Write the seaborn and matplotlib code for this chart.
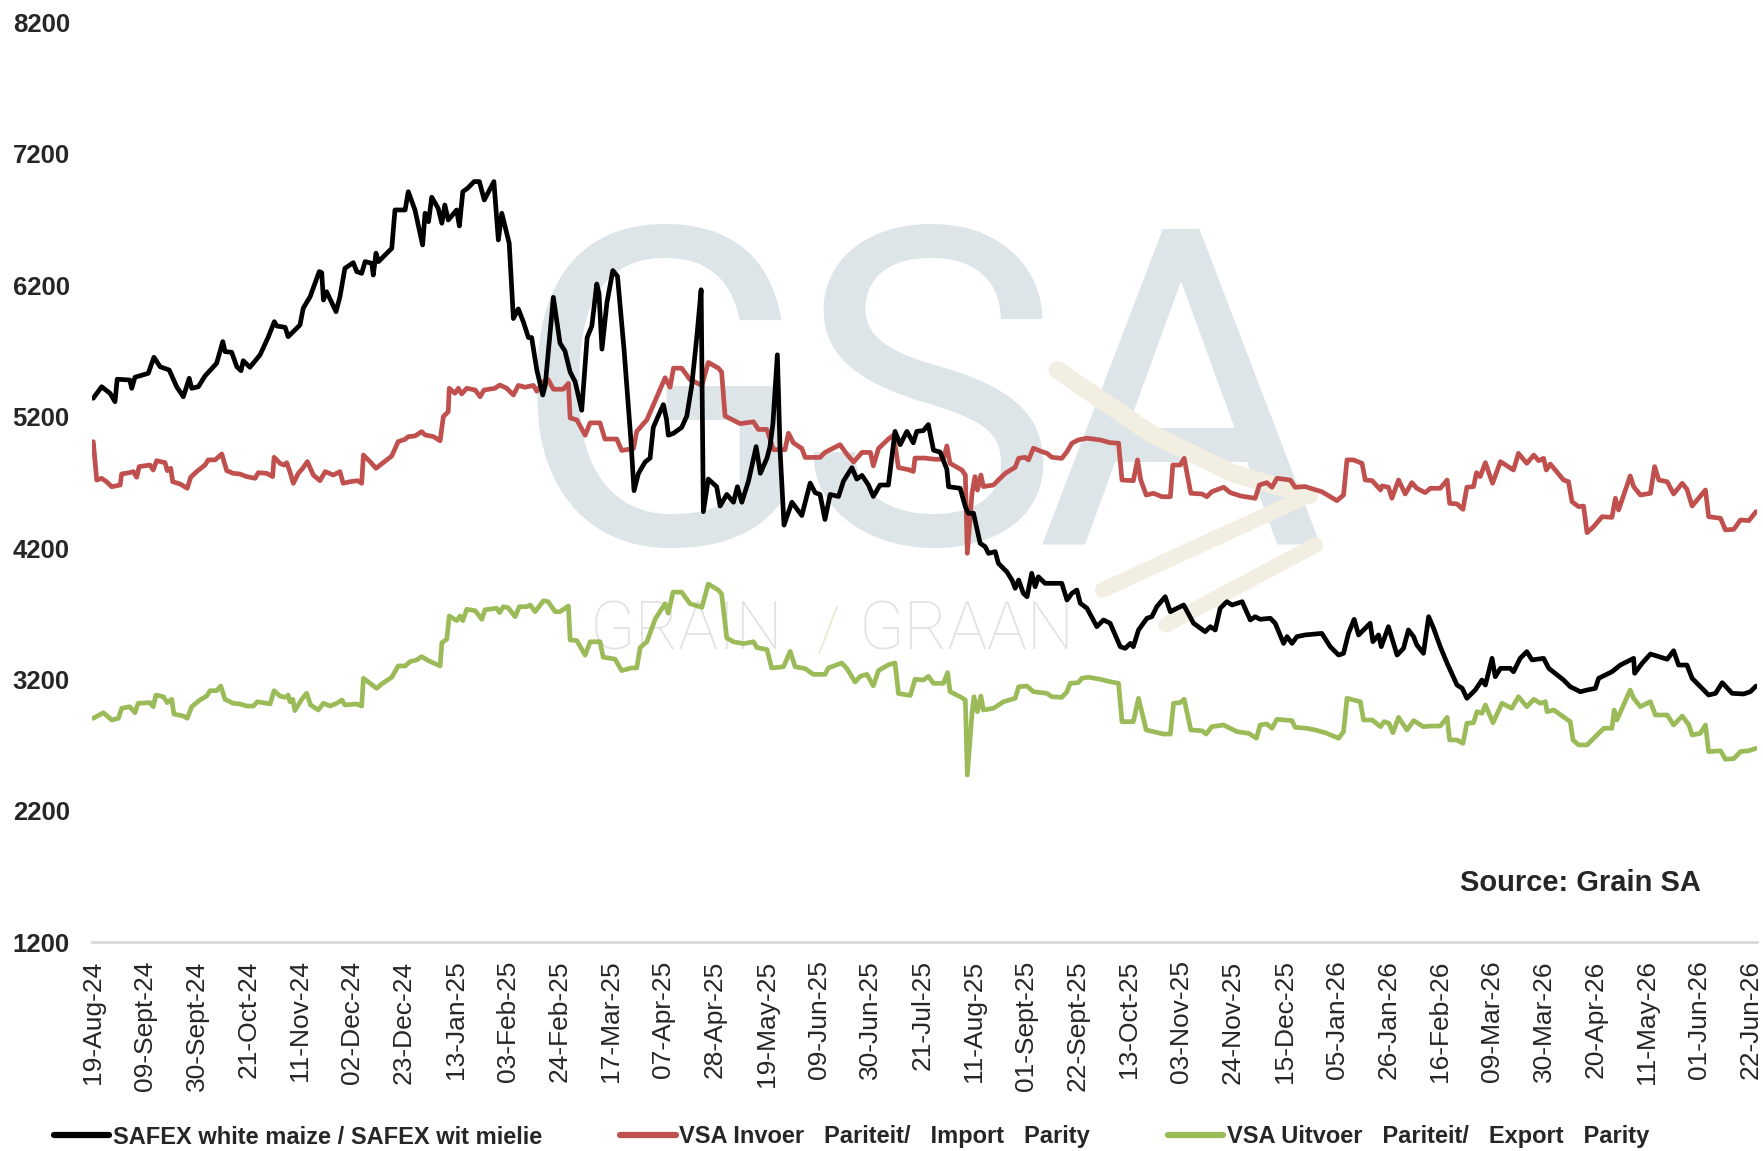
import pandas as pd
import matplotlib
matplotlib.use("Agg")
import matplotlib.pyplot as plt
import seaborn as sns
from matplotlib.lines import Line2D

# Dates are given as days after the first trading day (19-Aug-24)
start_date = "2024-08-19"

safex_day = [
    0, 3.4, 6.8, 8.8, 9.7, 14.8, 15.6, 16.9, 22.3, 24.6,
    27.1, 30.8, 33.8, 36.5, 38.9, 39.9, 42.6, 45.3, 50.0, 52.5,
    53.4, 56.1, 58.2, 59.9, 60.8, 63.5, 67.6, 71.0, 73.4, 74.4,
    77.8, 79.0, 83.8, 85.1, 87.9, 91.6, 92.6, 93.3, 94.6, 98.4,
    100.0, 102.0, 105.4, 106.8, 108.8, 110.2, 112.9, 113.5, 114.6, 115.6,
    121.0, 122.3, 126.4, 127.7, 130.4, 133.5, 134.5, 135.9, 137.2, 139.8,
    141.3, 142.5, 143.9, 147.3, 148.4, 149.8, 151.7, 154.4, 156.5, 158.5,
    162.4, 164.2, 165.6, 168.6, 170.3, 172.3, 174.4, 176.4, 177.7, 179.8,
    182.2, 183.2, 186.5, 189.2, 191.2, 193.3, 195.3, 198.0, 200.2, 202.1,
    204.1, 205.0, 206.2, 208.2, 210.6, 212.5, 215.2, 217.9, 219.2, 221.0,
    223.7, 225.7, 227.0, 229.0, 231.1, 232.4, 233.1, 235.2, 238.5, 240.6,
    242.6, 244.7, 246.4, 247.3, 249.3, 252.7, 254.1, 256.8, 259.5, 261.1,
    262.9, 265.6, 268.7, 270.4, 273.1, 274.3, 275.5, 277.3, 278.4, 280.0,
    283.2, 287.2, 290.6, 292.6, 294.6, 296.6, 298.7, 302.1, 304.1, 307.5,
    309.5, 311.6, 314.2, 316.2, 318.9, 322.3, 325.0, 327.1, 329.8, 332.4,
    333.8, 336.5, 338.5, 340.6, 343.3, 346.0, 346.7, 351.4, 353.5, 354.7,
    356.8, 357.4, 359.5, 361.5, 362.9, 365.6, 366.9, 370.3, 372.4, 373.7,
    375.1, 377.0, 378.5, 380.4, 381.8, 383.1, 385.8, 388.6, 392.6, 394.7,
    396.7, 398.7, 400.1, 402.8, 406.8, 409.5, 412.2, 416.3, 418.3, 420.4,
    421.6, 423.7, 427.1, 429.1, 431.1, 434.5, 436.6, 439.3, 442.0, 446.0,
    450.7, 452.8, 454.8, 456.8, 459.5, 461.6, 465.7, 469.0, 471.0, 473.0,
    477.1, 479.1, 482.5, 483.9, 485.9, 487.9, 491.2, 498.0, 501.4, 504.8,
    506.8, 508.8, 511.1, 512.9, 517.6, 518.7, 521.0, 522.1, 525.0, 528.5,
    531.1, 533.1, 535.2, 536.5, 539.2, 541.3, 543.3, 546.0, 548.8, 552.8,
    554.9, 556.8, 560.2, 562.9, 564.3, 567.0, 568.3, 570.4, 574.4, 575.7,
    578.4, 581.1, 583.2, 587.9, 590.0, 596.0, 598.7, 602.8, 605.5, 608.9,
    610.2, 615.6, 619.0, 624.4, 624.8, 627.8, 631.2, 638.0, 640.6, 642.6,
    646.0, 648.1, 653.5, 654.8, 657.6, 660.3, 664.3, 669.0, 671.7, 674.0,
]
safex_val = [
    5340, 5428, 5378, 5314, 5485, 5479, 5416, 5500, 5530, 5652,
    5580, 5555, 5428, 5352, 5492, 5416, 5428, 5510, 5606, 5771,
    5695, 5690, 5580, 5550, 5626, 5576, 5670, 5809, 5923, 5890,
    5880, 5809, 5898, 6025, 6113, 6304, 6296, 6088, 6151, 5999,
    6113, 6329, 6372, 6304, 6291, 6380, 6367, 6278, 6444, 6380,
    6481, 6773, 6773, 6912, 6773, 6507, 6748, 6684, 6870, 6786,
    6672, 6811, 6697, 6773, 6651, 6912, 6938, 6989, 6989, 6849,
    6989, 6545, 6748, 6520, 5947, 6020, 5918, 5802, 5802, 5555,
    5365, 5438, 6108, 5759, 5700, 5540, 5467, 5249, 5802, 5890,
    6210, 6137, 5714, 6065, 6312, 6268, 5700, 5030, 4637, 4769,
    4855, 4885, 5118, 5205, 5292, 5176, 5059, 5074, 5118, 5205,
    5438, 5816, 6166, 4477, 4725, 4667, 4520, 4608, 4549, 4667,
    4549, 4710, 4972, 4769, 4885, 4972, 5147, 5671, 4943, 4375,
    4549, 4448, 4695, 4622, 4608, 4418, 4608, 4593, 4710, 4812,
    4725, 4753, 4680, 4593, 4680, 4680, 5088, 4987, 5088, 5001,
    5088, 5094, 5140, 4945, 4930, 4800, 4667, 4655, 4515, 4465,
    4465, 4414, 4237, 4211, 4160, 4173, 4084, 4020, 3957, 3894,
    3957, 3856, 3830, 4008, 3906, 3982, 3932, 3932, 3932, 3805,
    3856, 3881, 3780, 3742, 3602, 3653, 3628, 3450, 3437, 3475,
    3450, 3577, 3666, 3678, 3754, 3830, 3716, 3742, 3767, 3628,
    3564, 3602, 3577, 3742, 3792, 3767, 3792, 3653, 3678, 3658,
    3666, 3628, 3475, 3526, 3475, 3526, 3539, 3551, 3450, 3386,
    3399, 3551, 3658, 3539, 3628, 3488, 3539, 3450, 3602, 3386,
    3437, 3577, 3526, 3463, 3399, 3678, 3590, 3450, 3323, 3158,
    3133, 3057, 3120, 3196, 3158, 3361, 3221, 3285, 3285, 3259,
    3361, 3412, 3349, 3361, 3285, 3196, 3145, 3107, 3120, 3133,
    3209, 3259, 3310, 3361, 3247, 3323, 3394, 3354, 3419, 3310,
    3310, 3209, 3107, 3082, 3095, 3176, 3095, 3090, 3107, 3150,
]

import_day = [
    0, 1.4, 3.4, 5.4, 7.5, 10.9, 11.5, 14.8, 16.2, 17.6,
    18.6, 23.0, 24.3, 25.7, 29.1, 30.0, 31.4, 32.2, 35.2, 38.1,
    39.5, 41.9, 45.3, 46.6, 49.4, 52.1, 54.1, 56.7, 59.4, 62.2,
    65.6, 66.9, 70.3, 72.7, 73.3, 75.7, 77.3, 78.4, 79.7, 81.1,
    83.1, 84.9, 86.8, 89.2, 91.9, 94.0, 97.3, 100.0, 101.3, 104.0,
    107.1, 108.8, 109.5, 112.2, 114.6, 121.0, 123.6, 126.4, 127.7, 130.4,
    133.1, 134.5, 137.9, 140.6, 141.9, 143.9, 144.3, 146.6, 148.0, 149.3,
    151.4, 154.8, 156.8, 158.4, 162.8, 164.8, 167.6, 170.3, 172.3, 175.0,
    178.4, 179.8, 182.5, 184.4, 186.5, 190.5, 192.6, 193.3, 196.0, 199.4,
    201.4, 205.4, 207.4, 212.2, 214.2, 219.0, 220.3, 224.4, 227.8, 231.8,
    233.8, 235.2, 238.5, 241.9, 246.7, 249.3, 253.4, 254.7, 256.1, 262.2,
    267.6, 269.6, 273.1, 275.7, 280.4, 281.8, 283.8, 287.2, 288.6, 294.6,
    296.6, 302.7, 305.5, 308.2, 311.6, 315.0, 316.2, 318.3, 322.3, 324.4,
    326.4, 330.5, 332.4, 333.1, 337.2, 339.2, 341.3, 344.6, 346.0, 347.3,
    352.1, 353.5, 354.3, 356.2, 357.4, 358.4, 359.8, 360.8, 364.9, 366.9,
    369.7, 373.7, 375.1, 377.7, 379.1, 381.1, 384.5, 386.5, 388.6, 392.6,
    394.7, 396.7, 399.3, 402.8, 408.2, 412.2, 415.6, 417.0, 421.6, 423.3,
    424.6, 426.8, 429.8, 433.2, 436.6, 437.6, 440.6, 442.2, 444.9, 449.4,
    451.4, 453.4, 458.2, 460.9, 465.0, 471.0, 472.7, 475.7, 477.8, 479.8,
    485.2, 487.2, 491.2, 498.0, 501.4, 504.1, 506.8, 508.2, 510.8, 514.3,
    515.6, 518.4, 521.8, 522.4, 525.0, 526.4, 529.1, 531.8, 534.5, 536.5,
    539.9, 542.0, 546.0, 548.8, 549.8, 552.8, 555.2, 556.8, 559.5, 560.7,
    562.2, 564.3, 567.2, 570.4, 575.7, 577.7, 581.1, 583.9, 585.9, 587.9,
    589.0, 590.6, 596.0, 598.0, 599.4, 602.1, 604.1, 605.5, 608.2, 611.6,
    615.6, 617.0, 618.3, 623.0, 624.4, 627.1, 631.2, 632.9, 634.6, 638.0,
    640.6, 644.1, 646.0, 648.1, 653.5, 654.8, 659.6, 661.6, 665.0, 667.7,
    671.1, 674.0,
]
import_val = [
    5010, 4718, 4731, 4705, 4667, 4680, 4764, 4774, 4782, 4739,
    4820, 4832, 4794, 4865, 4850, 4789, 4807, 4705, 4688, 4655,
    4739, 4782, 4832, 4871, 4871, 4916, 4789, 4769, 4764, 4744,
    4731, 4774, 4769, 4744, 4891, 4845, 4832, 4850, 4782, 4693,
    4769, 4807, 4858, 4756, 4713, 4782, 4756, 4782, 4693, 4705,
    4713, 4693, 4908, 4858, 4807, 4901, 5010, 5028, 5048, 5053,
    5086, 5061, 5048, 5017, 5200, 5238, 5416, 5378, 5416, 5373,
    5416, 5403, 5352, 5403, 5416, 5441, 5416, 5365, 5438, 5424,
    5438, 5394, 5467, 5482, 5409, 5409, 5453, 5190, 5176, 5059,
    5153, 5153, 5030, 5030, 4943, 4958, 5088, 5176, 5322, 5496,
    5424, 5569, 5569, 5482, 5438, 5613, 5569, 5540, 5205, 5147,
    5161, 5103, 5103, 4949, 4949, 5074, 5001, 4958, 4890, 4890,
    4928, 4987, 4914, 4855, 4928, 4928, 4826, 4958, 5030, 5059,
    4812, 4797, 4783, 4885, 4885, 4880, 4876, 4876, 4977, 4845,
    4794, 4756, 4160, 4617, 4744, 4642, 4756, 4668, 4680, 4718,
    4769, 4815, 4883, 4891, 4871, 4960, 4934, 4922, 4891, 4883,
    4934, 4998, 5023, 5036, 5023, 5002, 4998, 4718, 4713, 4871,
    4718, 4604, 4617, 4591, 4591, 4832, 4832, 4883, 4617, 4612,
    4591, 4629, 4663, 4622, 4597, 4579, 4680, 4698, 4663, 4731,
    4718, 4663, 4668, 4629, 4591, 4561, 4604, 4871, 4871, 4845,
    4718, 4713, 4642, 4673, 4663, 4579, 4718, 4612, 4698, 4655,
    4622, 4655, 4655, 4718, 4541, 4536, 4495, 4663, 4668, 4774,
    4744, 4850, 4693, 4858, 4794, 4921, 4845, 4908, 4865, 4883,
    4794, 4840, 4718, 4705, 4553, 4515, 4520, 4317, 4363, 4439,
    4434, 4579, 4490, 4749, 4668, 4604, 4617, 4820, 4718, 4705,
    4612, 4693, 4648, 4520, 4642, 4439, 4427, 4338, 4343, 4414,
    4409, 4477,
]

export_day = [
    0, 4.1, 7.5, 10.2, 11.5, 14.8, 16.9, 18.2, 23.0, 24.3,
    25.4, 28.4, 30.0, 31.8, 32.7, 36.5, 38.1, 39.9, 43.2, 46.0,
    47.3, 50.0, 51.7, 53.4, 56.7, 59.4, 62.2, 64.9, 66.5, 71.7,
    73.3, 75.7, 77.8, 79.0, 79.7, 80.9, 81.7, 84.5, 86.5, 88.1,
    91.2, 93.3, 96.0, 98.7, 100.8, 102.0, 106.8, 108.8, 109.5, 112.2,
    114.9, 116.9, 121.0, 123.6, 126.4, 128.4, 131.1, 133.1, 135.9, 140.6,
    141.3, 143.3, 144.3, 147.3, 148.7, 149.8, 151.4, 154.8, 157.5, 158.8,
    163.6, 164.7, 166.2, 168.2, 171.0, 172.7, 175.7, 177.1, 179.1, 182.5,
    184.4, 187.2, 189.2, 192.6, 193.3, 196.0, 199.4, 201.4, 205.4, 206.7,
    211.5, 214.2, 218.3, 220.3, 221.7, 224.4, 227.8, 231.8, 233.1, 235.0,
    238.5, 241.9, 246.7, 249.3, 253.4, 254.7, 256.8, 259.5, 263.6, 267.6,
    269.0, 273.1, 275.0, 279.8, 282.5, 284.5, 288.6, 291.9, 296.6, 298.0,
    303.4, 305.5, 308.8, 310.9, 313.6, 316.2, 318.3, 322.3, 325.0, 326.4,
    331.2, 333.1, 336.5, 338.5, 340.6, 344.6, 346.3, 347.3, 351.4, 353.5,
    354.3, 356.2, 357.0, 358.4, 359.8, 360.8, 364.9, 369.0, 373.7, 375.1,
    378.5, 381.1, 386.5, 388.6, 392.6, 394.7, 396.0, 399.3, 400.7, 403.4,
    408.2, 412.2, 415.6, 417.0, 421.6, 423.7, 426.8, 429.8, 433.8, 436.6,
    437.9, 440.6, 442.2, 444.9, 449.4, 451.1, 453.4, 458.2, 463.6, 468.4,
    471.5, 473.0, 475.7, 477.8, 479.8, 485.9, 487.2, 491.9, 495.3, 499.4,
    504.8, 506.8, 508.2, 513.6, 514.9, 518.4, 521.8, 523.2, 525.2, 526.8,
    529.1, 532.5, 535.2, 539.2, 542.0, 546.0, 548.8, 549.8, 552.8, 555.2,
    556.8, 559.5, 560.9, 562.9, 564.3, 567.4, 571.0, 575.0, 577.7, 581.1,
    583.9, 586.6, 588.6, 589.3, 592.0, 598.7, 599.8, 602.1, 605.5, 612.3,
    615.6, 616.5, 617.6, 623.0, 624.4, 627.1, 631.2, 633.2, 638.0, 640.6,
    644.1, 646.8, 648.1, 651.4, 653.5, 654.8, 659.6, 661.6, 665.0, 667.7,
    671.1, 674.0,
]
export_val = [
    2905, 2947, 2892, 2905, 2981, 2993, 2947, 3019, 3024, 2993,
    3082, 3069, 3024, 3049, 2937, 2922, 2905, 2993, 3044, 3074,
    3115, 3115, 3150, 3049, 3019, 3014, 2998, 2998, 3031, 3014,
    3115, 3074, 3064, 3082, 3031, 3049, 2963, 3049, 3095, 3006,
    2968, 3019, 2998, 3019, 3044, 3006, 3014, 2998, 3209, 3171,
    3133, 3166, 3217, 3303, 3303, 3336, 3349, 3374, 3343, 3303,
    3480, 3506, 3683, 3648, 3683, 3648, 3734, 3724, 3658, 3731,
    3742, 3709, 3754, 3746, 3678, 3754, 3754, 3767, 3716, 3800,
    3792, 3716, 3716, 3759, 3501, 3496, 3385, 3487, 3487, 3370,
    3355, 3268, 3288, 3288, 3443, 3487, 3661, 3777, 3705, 3865,
    3865, 3777, 3749, 3927, 3880, 3851, 3516, 3487, 3473, 3487,
    3443, 3428, 3288, 3297, 3414, 3297, 3283, 3239, 3239, 3288,
    3326, 3283, 3181, 3224, 3239, 3152, 3268, 3312, 3326, 3093,
    3079, 3202, 3196, 3224, 3171, 3171, 3252, 3107, 3069, 3044,
    2473, 2943, 3069, 2955, 3074, 2968, 2981, 3031, 3057, 3145,
    3150, 3107, 3095, 3069, 3064, 3107, 3171, 3176, 3209, 3217,
    3202, 3183, 3171, 2879, 2879, 3057, 2816, 2803, 2785, 2785,
    3019, 3024, 3049, 2816, 2810, 2785, 2841, 2854, 2803, 2790,
    2753, 2854, 2862, 2829, 2897, 2887, 2836, 2829, 2816, 2795,
    2753, 2803, 3057, 3031, 2892, 2892, 2841, 2879, 2867, 2795,
    2912, 2816, 2887, 2841, 2846, 2846, 2912, 2740, 2740, 2714,
    2867, 2871, 2955, 2943, 3006, 2871, 3019, 2981, 3069, 2993,
    3049, 3019, 3031, 2955, 2968, 2879, 2740, 2702, 2702, 2829,
    2829, 2968, 2892, 3120, 3057, 2993, 3031, 2930, 2930, 2854,
    2922, 2854, 2778, 2790, 2854, 2651, 2658, 2593, 2598, 2651,
    2658, 2676,
]

series_labels = [
    "SAFEX white maize / SAFEX wit mielie",
    "VSA Invoer   Pariteit/   Import   Parity",
    "VSA Uitvoer   Pariteit/   Export   Parity",
]
series_colors = ["#000000", "#c0504d", "#9bbb59"]
y_ticks = [1200, 2200, 3200, 4200, 5200, 6200, 7200, 8200]
tick_step_days = 21
n_ticks = 33

assert len(safex_day) == len(safex_val)
assert len(import_day) == len(import_val)
assert len(export_day) == len(export_val)

start = pd.Timestamp(start_date)


def to_frame(days, vals):
    return pd.DataFrame({"date": start + pd.to_timedelta(days, unit="D"),
                         "price": vals})


frames = [to_frame(safex_day, safex_val),
          to_frame(import_day, import_val),
          to_frame(export_day, export_val)]

sns.set_style("white")
plt.rcParams["font.family"] = ["Liberation Sans", "DejaVu Sans"]

fig = plt.figure(figsize=(17.63, 11.51), dpi=100)
ax = fig.add_axes([0.0522, 0.1813, 0.9444, 0.7992])

# faint GSA watermark behind the lines
wm = dict(transform=ax.transAxes, zorder=0, family=["Roboto", "DejaVu Sans"])
for letter, xpos in [("G", 0.342), ("S", 0.502), ("A", 0.654)]:
    ax.text(xpos, 0.433, letter, ha="center", va="baseline", fontsize=320,
            color="#dee5e8", **wm)
swoosh = "#f2eee2"
ax.plot([0.580, 0.635, 0.685, 0.731], [0.622, 0.554, 0.510, 0.486],
        transform=ax.transAxes, color=swoosh, lw=13, solid_capstyle="round",
        zorder=0.5)
ax.plot([0.731, 0.607], [0.486, 0.383], transform=ax.transAxes,
        color=swoosh, lw=11, solid_capstyle="round", zorder=0.5)
ax.plot([0.735, 0.645], [0.432, 0.345], transform=ax.transAxes,
        color=swoosh, lw=11, solid_capstyle="round", zorder=0.5)
ax.text(0.357, 0.318, "GRAIN", ha="center", va="baseline", fontsize=48,
        color="#e2e2e2", fontweight="light", **wm)
ax.text(0.442, 0.318, "/", ha="center", va="baseline", fontsize=44,
        color="#efe6cf", fontweight="light", **wm)
ax.text(0.525, 0.318, "GRAAN", ha="center", va="baseline", fontsize=48,
        color="#e2e2e2", fontweight="light", **wm)

# the three price lines, SAFEX on top
for df, color, label, z in zip(frames, series_colors, series_labels, [4, 3, 2]):
    sns.lineplot(data=df, x="date", y="price", color=color, linewidth=3.4,
                 estimator=None, sort=False, ax=ax, label=label, zorder=z,
                 solid_capstyle="round", solid_joinstyle="round")

ax.set_xlim(start - pd.Timedelta(days=0.5), start + pd.Timedelta(days=674.4))
ax.set_ylim(1200, 8200)

tick_dates = [start + pd.Timedelta(days=tick_step_days * i) for i in range(n_ticks)]
tick_labels = [d.strftime("%d-%b-%y").replace("Sep-", "Sept-") for d in tick_dates]
ax.set_xticks(tick_dates)
ax.set_xticklabels(tick_labels, rotation=90, fontsize=19)
ax.set_yticks(y_ticks)
ax.set_yticklabels([str(v) for v in y_ticks], fontsize=18.5, fontweight="bold")
ax.tick_params(axis="x", length=0, pad=13)
ax.tick_params(axis="y", length=0, pad=16)
ax.set_xlabel("")
ax.set_ylabel("")

for side in ["top", "right", "left"]:
    ax.spines[side].set_visible(False)
ax.spines["bottom"].set_color("#d9d9d9")
ax.spines["bottom"].set_linewidth(2)
ax.grid(False)

ax.text(0.966, 0.0645, "Source: Grain SA", transform=ax.transAxes,
        ha="right", va="center", fontsize=21, fontweight="bold")

ax.get_legend().remove()
handles = [Line2D([], [], color=c, lw=4.5, solid_capstyle="round") for c in series_colors]
fig.legend(handles, series_labels, loc="center left",
           bbox_to_anchor=(54 / 1763, 14 / 1151), ncol=3, frameon=False,
           handlelength=2.35, handletextpad=0.15, columnspacing=3.3,
           borderpad=0, borderaxespad=0,
           prop={"weight": "bold", "size": 17})

fig.savefig("out.png", dpi=100)
